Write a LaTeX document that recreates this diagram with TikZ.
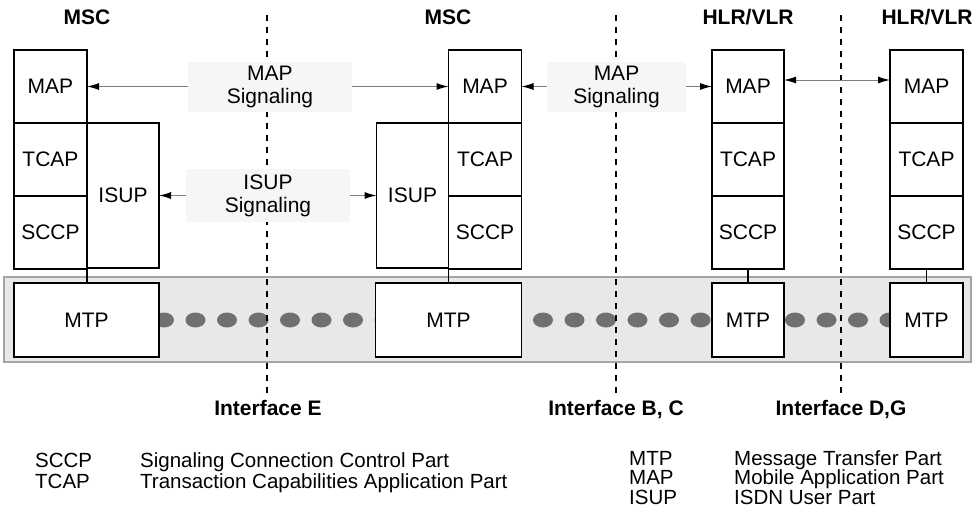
\documentclass[tikz,border=0pt]{standalone}
\usepackage{fontspec}
\setmainfont{Liberation Sans}
\usetikzlibrary{arrows.meta,positioning,shapes.geometric}
\definecolor{bandgray}{RGB}{232,232,232}
\definecolor{bandedge}{RGB}{165,165,165}
\definecolor{dotgray}{RGB}{112,112,112}
\definecolor{arrowgray}{RGB}{125,125,125}
\definecolor{labelbg}{RGB}{246,246,246}

\begin{document}
\begin{tikzpicture}[x=1pt, y=-1pt,
    lbl/.style={font=\fontsize{21}{23}\selectfont},
    ttl/.style={font=\fontsize{21}{23}\selectfont\bfseries},
    layer/.style={draw, line width=1.6pt, fill=white, outer sep=0pt, inner sep=0pt,
        minimum width=73pt, minimum height=73pt, lbl},
    tallbox/.style={layer, minimum width=72pt, minimum height=145pt},
    sig/.style={fill=labelbg, align=center, inner sep=0pt, lbl},
    ifline/.style={line width=2pt, dash pattern=on 6pt off 6pt},
    msg/.style={line width=1pt, arrowgray, -{Latex[length=12pt,width=7pt,black]}},
    dot/.style={ellipse, fill=dotgray, minimum width=20pt, minimum height=15pt, inner sep=0pt},
    legend/.style={anchor=base west, inner sep=0pt, font=\fontsize{20.5}{22}\selectfont}
]
\useasboundingbox (0,0) rectangle (980,512);

% Signalling link band
\draw[fill=bandgray, draw=bandedge, line width=1.5pt] (4,277) rectangle (971,362);

% Link dots
\foreach \k in {0,...,7}
    \node[dot] (dE\k) at (164+31.5*\k,320) {};
\foreach \k in {0,...,5}
    \node[dot] (dB\k) at (543+31.5*\k,320) {};
\foreach \k in {0,...,3}
    \node[dot] (dD\k) at (795+31.5*\k,320) {};

% Interfaces
\coordinate (eTop) at (267,15);  \coordinate (eBot) at (267,395);
\coordinate (bTop) at (616,15);  \coordinate (bBot) at (616,395);
\coordinate (dTop) at (841,15);  \coordinate (dBot) at (841,395);
\draw[ifline] (eTop) -- (eBot);
\draw[ifline] (bTop) -- (bBot);
\draw[ifline] (dTop) -- (dBot);
\node[ttl, anchor=base] (eLbl) at (268,415.5) {Interface E};
\node[ttl, anchor=base] (bLbl) at (616,415.5) {Interface B, C};
\node[ttl, anchor=base] (dLbl) at (841,415.5) {Interface D,G};

% Signaling labels
\node[sig, minimum width=164pt, minimum height=50pt] (sigMapE) at (270,86.5) {MAP\\Signaling};
\node[sig, minimum width=139pt, minimum height=50pt] (sigMapB) at (616.5,86.5) {MAP\\Signaling};
\node[sig, minimum width=164pt, minimum height=53pt] (sigIsup) at (268,195.5) {ISUP\\Signaling};

% MSC (left)
\node[ttl, anchor=base] (mscA) at (87,24.5) {MSC};
\node[layer] (mapA) at (50.5,86.5) {MAP};
\node[layer, below=0pt of mapA] (tcapA) {TCAP};
\node[layer, below=0pt of tcapA] (sccpA) {SCCP};
\node[tallbox, anchor=north west] (isupA) at (tcapA.north east) {ISUP};
\node[layer, minimum width=145pt, minimum height=74pt, anchor=north west] (mtpA) at (14,283) {MTP};
\draw[line width=1.6pt] (sccpA.south east) -- (sccpA.south east |- mtpA.north);

% MSC (right)
\node[ttl, anchor=base] (mscB) at (448,24.5) {MSC};
\node[layer] (mapB) at (485,86.5) {MAP};
\node[layer, below=0pt of mapB] (tcapB) {TCAP};
\node[layer, below=0pt of tcapB] (sccpB) {SCCP};
\node[tallbox, anchor=north east] (isupB) at (tcapB.north west) {ISUP};
\node[layer, minimum width=146pt, minimum height=74pt, anchor=north east] (mtpB) at (521.5,283) {MTP};
\draw[line width=1.6pt] (sccpB.south west) -- (sccpB.south west |- mtpB.north);

% HLR/VLR
\node[ttl, anchor=base] (hlrC) at (748,24.5) {HLR/VLR};
\node[layer, minimum width=72pt] (mapC) at (748,86.5) {MAP};
\node[layer, minimum width=72pt, below=0pt of mapC] (tcapC) {TCAP};
\node[layer, minimum width=72pt, below=0pt of tcapC] (sccpC) {SCCP};
\node[layer, minimum width=72pt, minimum height=74pt] (mtpC) at (748,320) {MTP};
\draw[line width=1.6pt] (sccpC.south) -- (mtpC.north);

\node[ttl, anchor=base] (hlrD) at (927,24.5) {HLR/VLR};
\node[layer] (mapD) at (926.5,86.5) {MAP};
\node[layer, below=0pt of mapD] (tcapD) {TCAP};
\node[layer, below=0pt of tcapD] (sccpD) {SCCP};
\node[layer, minimum height=74pt] (mtpD) at (926.5,320) {MTP};
\draw[line width=1.6pt] (sccpD.south) -- (mtpD.north);

% Signaling arrows
\draw[msg] (sigMapE.west) -- (mapA.east);
\draw[msg] (sigMapE.east) -- (mapB.west);
\draw[msg] (sigMapB.west) -- (mapB.east);
\draw[msg] (sigMapB.east) -- (mapC.west);
\draw[msg] (sigIsup.west) -- (isupA.east);
\draw[msg] (sigIsup.east) -- (isupB.west);
\draw[msg, {Latex[length=12pt,width=7pt,black]}-{Latex[length=12pt,width=7pt,black]}]
    ([yshift=6.5pt]mapC.east) -- ([yshift=6.5pt]mapD.west);

% Legend
\node[legend] (kSCCP) at (35,467.5) {SCCP};
\node[legend] (dSCCP) at (140,467.5) {Signaling Connection Control Part};
\node[legend] (kTCAP) at (35,488.5) {TCAP};
\node[legend] (dTCAP) at (140,488.5) {Transaction Capabilities Application Part};
\node[legend] (kMTP) at (629,465) {MTP};
\node[legend] (dMTP) at (734,465) {Message Transfer Part};
\node[legend] (kMAP) at (629,484.5) {MAP};
\node[legend] (dMAP) at (734,484.5) {Mobile Application Part};
\node[legend] (kISUP) at (629,504) {ISUP};
\node[legend] (dISUP) at (734,504) {ISDN User Part};
\end{tikzpicture}
\end{document}
